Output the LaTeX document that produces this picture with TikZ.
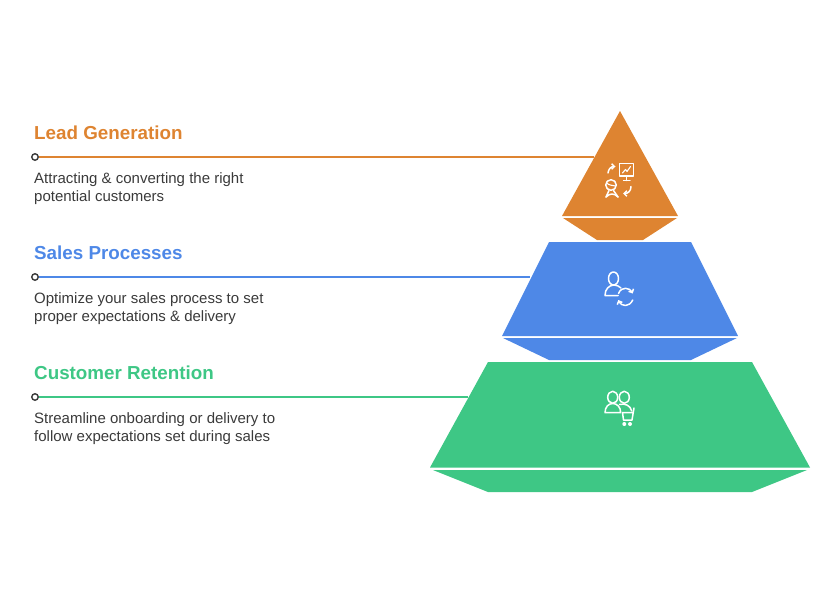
\documentclass[tikz,border=0pt]{standalone}
\usepackage{fontspec}
\setmainfont{Liberation Sans}
\usetikzlibrary{arrows.meta}
\definecolor{cOrange}{HTML}{DE8431}
\definecolor{cBlue}{HTML}{4E88E7}
\definecolor{cGreen}{HTML}{3EC785}
\definecolor{cText}{HTML}{3A3A3A}
\tikzset{
  x=1pt,y=-1pt,
  headtext/.style={anchor=base west,inner sep=0pt,font=\fontsize{18.8}{22}\selectfont\bfseries},
  desctext/.style={anchor=base west,inner sep=0pt,text=cText,font=\fontsize{15}{18}\selectfont},
  dotnode/.style={circle,draw=cText,fill=white,line width=1.4pt,minimum size=6.5pt,inner sep=0pt},
  leader/.style={line width=1.8pt},
  icon/.style={draw=white,line width=1.5pt,line cap=round,line join=round},
  iconarrow/.style={icon,-{Straight Barb[length=2.8pt,width=5.5pt]}},
}
\begin{document}
\begin{tikzpicture}
\useasboundingbox (0,0) rectangle (836,600);
% pyramid
\fill[cOrange] (620,111) -- (678,216) -- (562,216) -- cycle;
\fill[cOrange] (563,218) -- (677,218) -- (643,240) -- (597,240) -- cycle;
\fill[cBlue] (549,242) -- (691,242) -- (738,336) -- (502,336) -- cycle;
\fill[cBlue] (503,338) -- (737,338) -- (691,360) -- (549,360) -- cycle;
\fill[cGreen] (488,362) -- (752,362) -- (810,467.5) -- (430,467.5) -- cycle;
\fill[cGreen] (433,470) -- (807,470) -- (752,492) -- (488,492) -- cycle;
% leaders
\coordinate (endA) at (594,157);
\coordinate (endB) at (530,277);
\coordinate (endC) at (468,397);
\node[dotnode] (dotA) at (35,157) {};
\node[dotnode] (dotB) at (35,277) {};
\node[dotnode] (dotC) at (35,397) {};
\draw[leader,cOrange] (dotA) -- (endA);
\draw[leader,cBlue] (dotB) -- (endB);
\draw[leader,cGreen] (dotC) -- (endC);
% text
\node[headtext,text=cOrange] (hA) at (34,139) {Lead Generation};
\node[desctext] (dA1) at (34,183) {Attracting \& converting the right};
\node[desctext] (dA2) at (34,201) {potential customers};
\node[headtext,text=cBlue] (hB) at (34,259) {Sales Processes};
\node[desctext] (dB1) at (34,303) {Optimize your sales process to set};
\node[desctext] (dB2) at (34,321) {proper expectations \& delivery};
\node[headtext,text=cGreen] (hC) at (34,379) {Customer Retention};
\node[desctext] (dC1) at (34,423) {Streamline onboarding or delivery to};
\node[desctext] (dC2) at (34,441) {follow expectations set during sales};
% icon 1
\draw[icon] (619.5,163.5) rectangle (633.5,176);
\draw[icon,line width=1.1pt] (622.5,173) -- (625.5,169.5) -- (627,171.5) -- (630.5,166.5);
\draw[icon] (626.5,176) -- (626.5,180.5) (623.5,180.5) -- (630,180.5);
\draw[iconarrow] (608,173) .. controls (608.5,169) and (611,166.5) .. (615.5,166.5);
\draw[icon] (611,185) circle (5.3);
\draw[icon,line width=1.1pt] (606.5,183) .. controls (610,186) and (613,185) .. (615.5,186);
\draw[icon] (606,197) -- (609,190.5);
\draw[icon] (618,197) -- (613.5,190.5);
\draw[icon] (606,197) .. controls (608,195) and (610,194) .. (612,194) .. controls (614,194) and (616,195) .. (618,197);
\draw[iconarrow] (631,186.5) .. controls (631,191) and (628,193.5) .. (623,193.5);
% icon 2
\draw[icon] (613.5,278.5) ellipse (5 and 6.5);
\draw[icon] (618,295.5) -- (605,295.5) .. controls (605,289) and (609,285.5) .. (613.5,285) .. controls (616.5,285) and (619,286) .. (621,288);
\draw[iconarrow] (618.5,293.5) .. controls (620,289.5) and (623,288.3) .. (625.5,288.3) .. controls (628.5,288.3) and (631,290) .. (632.7,293.5);
\draw[iconarrow] (632.7,300) .. controls (631,303.5) and (628.5,305.5) .. (625.5,305.5) .. controls (622.5,305.5) and (620,304) .. (618.3,300);
% icon 3
\draw[icon] (612.7,397.3) ellipse (5 and 6);
\draw[icon] (624.3,397.3) ellipse (5 and 6);
\draw[icon] (605,412.7) -- (620.7,412.7) .. controls (620.7,407) and (617,403.5) .. (612.7,403.5) .. controls (608.5,403.5) and (605,407) .. (605,412.7) -- cycle;
\draw[icon] (619.5,404.5) .. controls (625,403) and (630.5,405.5) .. (631.7,411);
\draw[icon] (634,408) -- (632,420) -- (623.5,420) -- (622.5,412.5) -- (633,412.5);
\fill[white] (624.3,424) circle (2);
\fill[white] (630,424) circle (2);
\end{tikzpicture}
\end{document}
